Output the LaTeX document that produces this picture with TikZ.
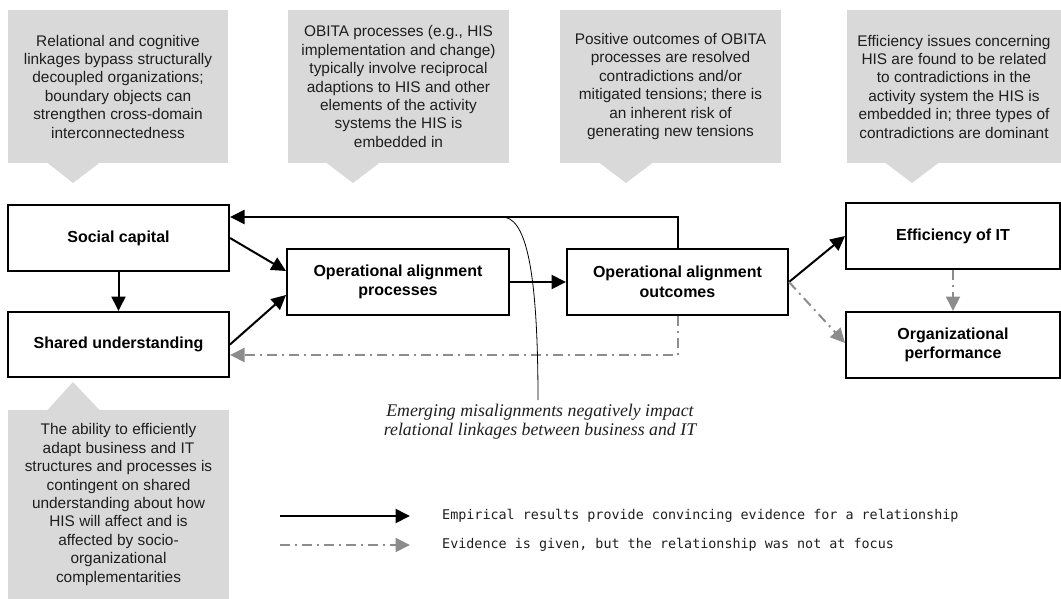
\documentclass[tikz,border=0pt]{standalone}
\usepackage{fontspec}
\setmainfont{Liberation Sans}
\newfontfamily\legendmono{DejaVu Sans Mono}
\newfontfamily\noteserif{Liberation Serif}
\usetikzlibrary{arrows.meta}
\definecolor{calloutgray}{HTML}{D9D9D9}
\definecolor{linkgray}{HTML}{8C8C8C}
\definecolor{inktext}{HTML}{1E1E1E}

\begin{document}
\begin{tikzpicture}[x=1pt,y=-1pt,
  callout/.style={fill=calloutgray, inner sep=0pt, align=center, text=inktext,
    font=\fontsize{15.4}{18.4}\selectfont},
  concept/.style={draw=black, line width=2pt, fill=white, align=center, inner sep=0pt,
    font=\bfseries\fontsize{16}{19.5}\selectfont},
  strong/.style={draw=black, line width=2pt, -{Triangle[length=14.5pt,width=14pt]}},
  weak/.style={draw=linkgray, line width=2pt, dash pattern=on 10pt off 5pt on 2pt off 5pt,
    -{Triangle[length=14.5pt,width=14pt]}},
  legendtext/.style={anchor=west, inner sep=0pt, text=inktext,
    font=\legendmono\fontsize{13.4}{16}\selectfont},
]
\useasboundingbox (0,0) rectangle (1061,599);

% ---- explanatory callouts ----
\node[callout, minimum width=220pt, minimum height=153pt] (c1) at (118,86.5)
  {Relational and cognitive\\linkages bypass structurally\\decoupled organizations;\\boundary objects can\\strengthen cross-domain\\interconnectedness};
\fill[calloutgray] (47,162.5) -- (73,183) -- (100,162.5) -- cycle;

\node[callout, minimum width=221pt, minimum height=153pt] (c2) at (398.5,86.5)
  {OBITA processes (e.g., HIS\\implementation and change)\\typically involve reciprocal\\adaptions to HIS and other\\elements of the activity\\systems the HIS is\\embedded in};
\fill[calloutgray] (326,162.5) -- (353,183) -- (380,162.5) -- cycle;

\node[callout, minimum width=221pt, minimum height=153pt] (c3) at (670.5,86.5)
  {Positive outcomes of OBITA\\processes are resolved\\contradictions and/or\\mitigated tensions; there is\\an inherent risk of\\generating new tensions};
\fill[calloutgray] (599,162.5) -- (626,183) -- (653,162.5) -- cycle;

\node[callout, minimum width=214pt, minimum height=153pt] (c4) at (954,86.5)
  {Efficiency issues concerning\\HIS are found to be related\\to contradictions in the\\activity system the HIS is\\embedded in; three types of\\contradictions are dominant};
\fill[calloutgray] (885,162.5) -- (912,183) -- (939,162.5) -- cycle;

\node[callout, minimum width=221pt, minimum height=189pt] (c5) at (118.5,504.5)
  {The ability to efficiently\\adapt business and IT\\structures and processes is\\contingent on shared\\understanding about how\\HIS will affect and is\\affected by socio-\\organizational\\complementarities};
\fill[calloutgray] (47,410.5) -- (73,382) -- (100,410.5) -- cycle;

% ---- concepts ----
\node[concept, minimum width=221pt, minimum height=66pt] (sc) at (118.5,238) {Social capital};
\node[concept, minimum width=221pt, minimum height=65pt] (su) at (118.5,344.5) {Shared understanding};
\node[concept, minimum width=222pt, minimum height=66pt] (oap) at (398,282) {Operational alignment\\processes};
\node[concept, minimum width=221pt, minimum height=66pt] (oao) at (677.5,282) {Operational alignment\\outcomes};
\node[concept, minimum width=214pt, minimum height=66pt] (eff) at (953,236) {Efficiency of IT};
\node[concept, minimum width=214pt, minimum height=66pt] (op) at (953,345) {Organizational\\performance};

% ---- relationships ----
\draw[strong] (sc.south) -- (su.north);
\draw[strong] (sc.east) -- ([yshift=11pt]oap.west);
\draw[strong] (su.east) -- ([yshift=-13pt]oap.west);
\draw[strong] (oap.east) -- (oao.west);
\draw[strong] (oao.east) -- (eff.west);
\draw[weak] (oao.east) -- ([yshift=2pt]op.west);
\draw[weak] (eff.south) -- (op.north);
\draw[strong] (oao.north) |- ([yshift=21pt]sc.east);
\draw[weak] (oao.south) |- ([yshift=-10.5pt]su.east);

% ---- annotation of the feedback loop ----
\coordinate (loop) at (502,217);
\node[anchor=north, inner sep=0pt, align=center, text=inktext,
  font=\noteserif\itshape\fontsize{17.8}{19}\selectfont] (note) at (540,404)
  {Emerging misalignments negatively impact\\relational linkages between business and IT};
\draw[line width=0.8pt] (loop) .. controls (524,217) and (538,260) .. ([xshift=-2pt,yshift=4pt]note.north);

% ---- legend ----
\coordinate (ls1) at (280,516);
\coordinate (le1) at (410,516);
\coordinate (ls2) at (280,545);
\coordinate (le2) at (410,545);
\draw[strong] (ls1) -- (le1);
\draw[weak] (ls2) -- (le2);
\node[legendtext] (lt1) at (442,516) {Empirical results provide convincing evidence for a relationship};
\node[legendtext] (lt2) at (442,545) {Evidence is given, but the relationship was not at focus};
\end{tikzpicture}
\end{document}
